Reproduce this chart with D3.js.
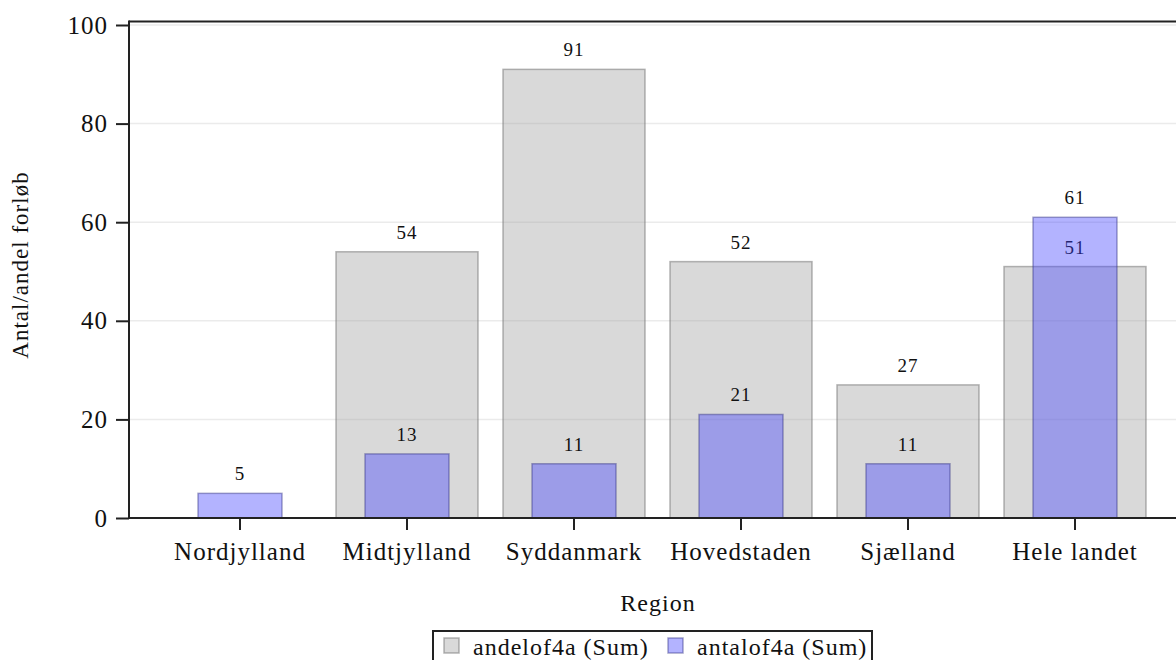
<!DOCTYPE html>
<html>
<head>
<meta charset="utf-8">
<script src="https://cdn.jsdelivr.net/npm/d3@7"></script>
<style>
  html, body { margin: 0; padding: 0; background: #fff; }
</style>
</head>
<body>
<svg id="chart" width="1176" height="660"></svg>
<script>
// Regions on the x axis
const regions = ["Nordjylland", "Midtjylland", "Syddanmark", "Hovedstaden", "Sjælland", "Hele landet"];
// andelof4a (Sum) per region (null = no bar)
const andel = [null, 54, 91, 52, 27, 51];
// antalof4a (Sum) per region
const antal = [5, 13, 11, 21, 11, 61];
// Y axis tick values
const yTicks = [0, 20, 40, 60, 80, 100];
const seriesNames = ["andelof4a (Sum)", "antalof4a (Sum)"];

const FONT = "'Liberation Serif', 'Times New Roman', serif";
const INK = "#111";

const svg = d3.select("#chart");
const plotLeft = 129, plotRight = 1187, plotTop = 21.5, plotBottom = 518;

const x = d3.scaleBand().domain(regions).range([156.5, 1158.5]).padding(0);
const y = d3.scaleLinear().domain([0, 100]).range([plotBottom, 25]);

const grayFill = "rgba(160,160,160,0.4)";
const grayStroke = "rgba(120,120,120,0.55)";
const blueFill = "rgba(64,64,255,0.4)";
const blueStroke = "rgba(50,50,130,0.45)";

function styleText(sel, size) {
  return sel.attr("font-family", FONT).attr("font-size", size)
    .attr("letter-spacing", 1).attr("fill", INK);
}

// Gridlines
svg.append("g").selectAll("line").data(yTicks.filter(d => d > 0)).join("line")
  .attr("x1", plotLeft).attr("x2", plotRight)
  .attr("y1", d => y(d)).attr("y2", d => y(d))
  .attr("stroke", "#ebebeb").attr("stroke-width", 1.5);

const wide = 142, narrow = 84;
const andelData = regions.map((r, i) => ({ r, v: andel[i] })).filter(d => d.v != null);
const antalData = regions.map((r, i) => ({ r, v: antal[i] }));

// andel bars (behind)
svg.append("g").selectAll("rect").data(andelData).join("rect")
  .attr("x", d => x(d.r) + x.bandwidth() / 2 - wide / 2)
  .attr("width", wide)
  .attr("y", d => y(d.v))
  .attr("height", d => y(0) - y(d.v))
  .attr("fill", grayFill).attr("stroke", grayStroke).attr("stroke-width", 1.5);

styleText(svg.append("g").selectAll("text").data(andelData).join("text")
  .attr("x", d => x(d.r) + x.bandwidth() / 2)
  .attr("y", d => y(d.v) - 13)
  .attr("text-anchor", "middle"), 19)
  .text(d => d.v);

// antal bars (front, translucent)
svg.append("g").selectAll("rect").data(antalData).join("rect")
  .attr("x", d => x(d.r) + x.bandwidth() / 2 - narrow / 2)
  .attr("width", narrow)
  .attr("y", d => y(d.v))
  .attr("height", d => y(0) - y(d.v))
  .attr("fill", blueFill).attr("stroke", blueStroke).attr("stroke-width", 1.5);

styleText(svg.append("g").selectAll("text").data(antalData).join("text")
  .attr("x", d => x(d.r) + x.bandwidth() / 2)
  .attr("y", d => y(d.v) - 13)
  .attr("text-anchor", "middle"), 19)
  .text(d => d.v);

// Frame: top border, left axis, bottom axis
svg.append("line").attr("x1", plotLeft).attr("x2", plotRight).attr("y1", plotTop).attr("y2", plotTop)
  .attr("stroke", "#222").attr("stroke-width", 2);

const yAxis = svg.append("g").attr("transform", `translate(${plotLeft},0)`)
  .call(d3.axisLeft(y).tickValues(yTicks).tickSize(13).tickPadding(8));
yAxis.select(".domain").remove();
yAxis.selectAll(".tick line").attr("stroke", "#222").attr("stroke-width", 2);
styleText(yAxis.selectAll(".tick text"), 25);
svg.append("line").attr("x1", plotLeft).attr("x2", plotLeft).attr("y1", plotTop - 1).attr("y2", plotBottom + 1)
  .attr("stroke", "#222").attr("stroke-width", 2);

const xAxis = svg.append("g").attr("transform", `translate(0,${plotBottom})`)
  .call(d3.axisBottom(x).tickSize(12).tickPadding(12));
xAxis.select(".domain").remove();
xAxis.selectAll(".tick line").attr("stroke", "#222").attr("stroke-width", 2);
styleText(xAxis.selectAll(".tick text"), 25);
svg.append("line").attr("x1", plotLeft - 1).attr("x2", plotRight).attr("y1", plotBottom).attr("y2", plotBottom)
  .attr("stroke", "#222").attr("stroke-width", 2);

// Axis titles
styleText(svg.append("text").attr("x", 658).attr("y", 611).attr("text-anchor", "middle"), 24)
  .text("Region");
styleText(svg.append("text").attr("transform", "translate(28,265) rotate(-90)")
  .attr("text-anchor", "middle"), 23)
  .text("Antal/andel forløb");

// Legend
const lg = svg.append("g");
lg.append("rect").attr("x", 433).attr("y", 631).attr("width", 439).attr("height", 40)
  .attr("fill", "#fff").attr("stroke", "#222").attr("stroke-width", 2);
const legendFills = [[grayFill, grayStroke, 444, 473], [blueFill, blueStroke, 668, 697]];
seriesNames.forEach((name, i) => {
  const [f, s, bx, tx] = legendFills[i];
  lg.append("rect").attr("x", bx).attr("y", 638).attr("width", 15).attr("height", 15)
    .attr("fill", f).attr("stroke", s).attr("stroke-width", 1.5);
  styleText(lg.append("text").attr("x", tx).attr("y", 655), 24).text(name);
});
</script>
</body>
</html>
